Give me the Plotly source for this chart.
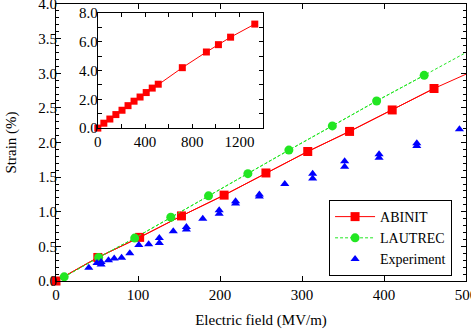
import plotly.graph_objects as go

# ABINIT (MV/m, strain %)
abinit_field = [0, 51, 102, 153, 205, 256, 307, 358, 410, 461, 512, 716, 920, 1022, 1125, 1330]
abinit_strain = [0, 0.34, 0.63, 0.94, 1.24, 1.56, 1.87, 2.16, 2.47, 2.78, 3.05, 4.2, 5.29, 5.8, 6.32, 7.23]

# LAUTREC
lautrec_field = [10, 52, 96, 140, 186, 234, 284, 337, 391, 449, 511]
lautrec_strain = [0.06, 0.34, 0.62, 0.92, 1.23, 1.55, 1.89, 2.24, 2.60, 2.97, 3.37]

# Experiment
exp_field = [40, 50, 55, 55, 64, 71, 80, 90, 101, 113, 126, 126, 143, 159, 159, 179,
             199, 199, 219, 219, 248, 248, 279, 313, 313, 352, 352, 394, 394, 440, 440, 492]
exp_strain = [0.19, 0.26, 0.275, 0.24, 0.30, 0.325, 0.335, 0.40, 0.52, 0.53, 0.55, 0.62,
              0.72, 0.745, 0.78, 0.90, 0.97, 1.02, 1.12, 1.15, 1.22, 1.25, 1.40, 1.48,
              1.55, 1.65, 1.73, 1.78, 1.83, 1.95, 1.99, 2.19]

x_tick_vals = [0, 100, 200, 300, 400, 500]
y_tick_vals = [0.0, 0.5, 1.0, 1.5, 2.0, 2.5, 3.0, 3.5, 4.0]
inset_x_ticks = [0, 400, 800, 1200]
inset_y_ticks = [0.0, 2.0, 4.0, 6.0, 8.0]

XMAX = 500
RED = "#ff0000"
GREEN = "#22e622"
BLUE = "#0000ff"
FONT = "Liberation Serif"
FS = 15

fig = go.Figure()

# main: line-only traces (clipped), then markers (unclipped) within range
fig.add_trace(go.Scatter(x=abinit_field, y=abinit_strain, mode="lines",
                         line=dict(color=RED, width=1), showlegend=False, hoverinfo="skip"))
fig.add_trace(go.Scatter(x=lautrec_field, y=lautrec_strain, mode="lines",
                         line=dict(color=GREEN, width=1, dash="3px,2px"), showlegend=False,
                         hoverinfo="skip"))

ab_in = [(x, y) for x, y in zip(abinit_field, abinit_strain) if x <= XMAX]
la_in = [(x, y) for x, y in zip(lautrec_field, lautrec_strain) if x <= XMAX]

fig.add_trace(go.Scatter(x=[p[0] for p in ab_in], y=[p[1] for p in ab_in], mode="lines+markers",
                         name="ABINIT", line=dict(color=RED, width=1),
                         marker=dict(symbol="square", size=9, color=RED), cliponaxis=False))
fig.add_trace(go.Scatter(x=[p[0] for p in la_in], y=[p[1] for p in la_in], mode="lines+markers",
                         name="LAUTREC", line=dict(color=GREEN, width=1, dash="3px,2px"),
                         marker=dict(symbol="circle", size=9, color=GREEN), cliponaxis=False))
fig.add_trace(go.Scatter(x=exp_field, y=exp_strain, mode="markers", name="Experiment",
                         marker=dict(symbol="triangle-up", size=8, color=BLUE), cliponaxis=False))

# inset
fig.add_trace(go.Scatter(x=abinit_field, y=abinit_strain, mode="lines+markers",
                         line=dict(color=RED, width=1),
                         marker=dict(symbol="square", size=7, color=RED),
                         xaxis="x2", yaxis="y2", showlegend=False, cliponaxis=False))

axis_common = dict(showline=True, linecolor="black", linewidth=1, mirror="ticks",
                   ticks="inside", tickcolor="black", showgrid=False, zeroline=False,
                   automargin=False, ticklabeloverflow="allow",
                   tickfont=dict(family=FONT, size=FS, color="black"))

fig.update_layout(
    template="none",
    width=471, height=330,
    margin=dict(l=56, r=5, t=4, b=49),
    paper_bgcolor="white", plot_bgcolor="white",
    font=dict(family=FONT, size=FS, color="black"),
    xaxis=dict(range=[0, XMAX], tickvals=x_tick_vals, ticklen=5,
               title=dict(text="Electric field (MV/m)", font=dict(family=FONT, size=FS), standoff=12),
               **axis_common),
    yaxis=dict(range=[0, 4], tickvals=y_tick_vals, tickformat=".1f", ticklen=5,
               ticklabelstandoff=-5,
               minor=dict(dtick=0.1, ticks="inside", ticklen=3, tickcolor="black"),
               title=dict(text="Strain (%)", font=dict(family=FONT, size=FS), standoff=18),
               **axis_common),
    xaxis2=dict(domain=[0.102, 0.505], anchor="y2", range=[0, 1400], tickvals=inset_x_ticks,
                ticklen=4, minor=dict(dtick=200, ticks="inside", ticklen=4, tickcolor="black"),
                **axis_common),
    yaxis2=dict(domain=[0.552, 0.9675], anchor="x2", range=[0, 8], tickvals=inset_y_ticks,
                tickformat=".1f", ticklen=4, ticklabelstandoff=-4,
                minor=dict(dtick=1, ticks="inside", ticklen=4, tickcolor="black"),
                **axis_common),
    legend=dict(x=0.966, xanchor="right", y=0.018, yanchor="bottom",
                bgcolor="white", bordercolor="black", borderwidth=1,
                font=dict(family=FONT, size=14), tracegroupgap=0, itemwidth=40),
)

fig.write_html("out.html", config={"displayModeBar": False},
               post_script="document.body.style.margin='0';document.body.style.padding='0';")
